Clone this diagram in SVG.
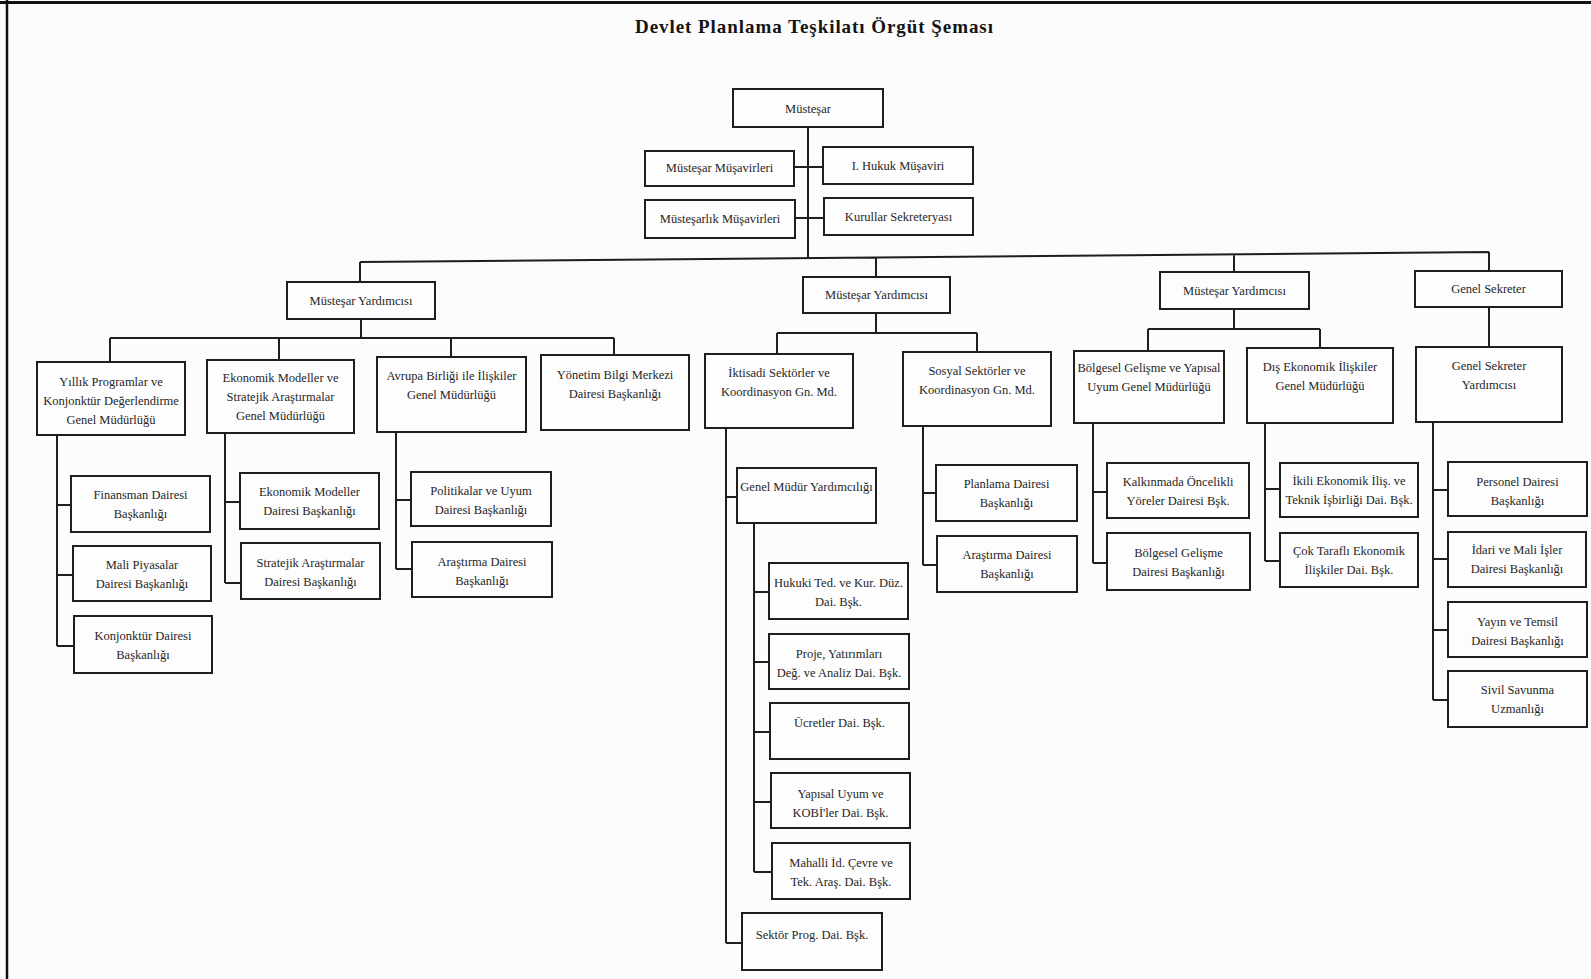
<svg xmlns="http://www.w3.org/2000/svg" width="1591" height="979" viewBox="0 0 1591 979">
<style>
.bg{fill:#fcfcfd}
.frame{stroke:#111;fill:none}
.box{fill:#fdfdfd;stroke:#1e1e1e;stroke-width:2}
.con{fill:none;stroke:#1e1e1e;stroke-width:2}
.t{font-family:"Liberation Serif","DejaVu Serif",serif;font-size:12.5px;fill:#262626;text-anchor:middle}
.title{font-family:"Liberation Serif","DejaVu Serif",serif;font-size:19px;font-weight:bold;fill:#151515;text-anchor:middle}
</style>
<rect class="bg" x="0" y="0" width="1591" height="979"/>
<line class="frame" x1="0" y1="2.5" x2="1591" y2="2.5" stroke-width="3"/>
<line class="frame" x1="7" y1="0" x2="7" y2="979" stroke-width="2.5"/>
<text id="title" class="title" x="814" y="33" textLength="358" lengthAdjust="spacing">Devlet Planlama Teşkilatı Örgüt Şeması</text>

<g id="connectors">
<path class="con" d="M808 127V258 M794 167H823 M795 218H824"/>
<path class="con" d="M360 262L1489 252 M360 262V282 M876 257.5V277 M1234 254.3V272 M1489 252V271"/>
<path class="con" d="M361 319V338 M110 338H614 M110 338V362 M279 338V360 M451 338V357 M614 338V355"/>
<path class="con" d="M876 313V333 M777 333H977 M777 333V354 M977 333V352"/>
<path class="con" d="M1234 309V329 M1148 329H1320 M1148 329V351 M1320 329V348"/>
<path class="con" d="M1489 307V347"/>
<path class="con" d="M57 435V646 M57 505H71 M57 575H73 M57 646H74"/>
<path class="con" d="M225 433V583 M225 502H240 M225 583H241"/>
<path class="con" d="M396 432V569 M396 500H411 M396 569H412"/>
<path class="con" d="M726 428V943 M726 497H737 M726 943H742"/>
<path class="con" d="M754 523V872 M754 592H769 M754 662H769 M754 732H770 M754 802H771 M754 872H772"/>
<path class="con" d="M923 426V565 M923 493H936 M923 565H937"/>
<path class="con" d="M1093 423V563 M1093 492H1107 M1093 563H1107"/>
<path class="con" d="M1265 423V561 M1265 489H1280 M1265 561H1280"/>
<path class="con" d="M1433 422V700 M1433 490H1448 M1433 559H1448 M1433 630H1448 M1433 700H1448"/>
</g>

<g id="mustesar"><rect class="box" x="733" y="89" width="150" height="38"/><text class="t" x="808" y="113">Müsteşar</text></g>
<g id="mustesar-musavirleri"><rect class="box" x="645" y="151" width="149" height="35"/><text class="t" x="719.5" y="172">Müsteşar Müşavirleri</text></g>
<g id="hukuk-musaviri"><rect class="box" x="823" y="147" width="150" height="37"/><text class="t" x="898" y="170">I. Hukuk Müşaviri</text></g>
<g id="mustesarlik-musavirleri"><rect class="box" x="645" y="200" width="150" height="38"/><text class="t" x="720" y="223">Müsteşarlık Müşavirleri</text></g>
<g id="kurullar"><rect class="box" x="824" y="198" width="149" height="37"/><text class="t" x="898.5" y="221">Kurullar Sekreteryası</text></g>

<g id="my1"><rect class="box" x="287" y="282" width="148" height="37"/><text class="t" x="361" y="305">Müsteşar Yardımcısı</text></g>
<g id="my2"><rect class="box" x="803" y="277" width="147" height="36"/><text class="t" x="876.5" y="299">Müsteşar Yardımcısı</text></g>
<g id="my3"><rect class="box" x="1160" y="272" width="149" height="37"/><text class="t" x="1234.5" y="295">Müsteşar Yardımcısı</text></g>
<g id="genel-sekreter"><rect class="box" x="1415" y="271" width="147" height="36"/><text class="t" x="1488.5" y="293">Genel Sekreter</text></g>

<g id="yillik"><rect class="box" x="37" y="362" width="148" height="73"/><text class="t"><tspan x="111" y="386">Yıllık Programlar ve</tspan><tspan x="111" y="405">Konjonktür Değerlendirme</tspan><tspan x="111" y="424">Genel Müdürlüğü</tspan></text></g>
<g id="ekonomik-gm"><rect class="box" x="207" y="360" width="147" height="73"/><text class="t"><tspan x="280.5" y="382">Ekonomik Modeller ve</tspan><tspan x="280.5" y="401">Stratejik Araştırmalar</tspan><tspan x="280.5" y="420">Genel Müdürlüğü</tspan></text></g>
<g id="avrupa"><rect class="box" x="377" y="357" width="149" height="75"/><text class="t"><tspan x="451.5" y="380">Avrupa Birliği ile İlişkiler</tspan><tspan x="451.5" y="399">Genel Müdürlüğü</tspan></text></g>
<g id="yonetim"><rect class="box" x="541" y="355" width="148" height="75"/><text class="t"><tspan x="615" y="379">Yönetim Bilgi Merkezi</tspan><tspan x="615" y="398">Dairesi Başkanlığı</tspan></text></g>
<g id="iktisadi"><rect class="box" x="705" y="354" width="148" height="74"/><text class="t"><tspan x="779" y="377">İktisadi Sektörler ve</tspan><tspan x="779" y="396">Koordinasyon Gn. Md.</tspan></text></g>
<g id="sosyal"><rect class="box" x="903" y="352" width="148" height="74"/><text class="t"><tspan x="977" y="375">Sosyal Sektörler ve</tspan><tspan x="977" y="394">Koordinasyon Gn. Md.</tspan></text></g>
<g id="bolgesel-gm"><rect class="box" x="1074" y="351" width="150" height="72"/><text class="t"><tspan x="1149" y="372">Bölgesel Gelişme ve Yapısal</tspan><tspan x="1149" y="391">Uyum Genel Müdürlüğü</tspan></text></g>
<g id="dis-ekonomik"><rect class="box" x="1247" y="348" width="146" height="75"/><text class="t"><tspan x="1320" y="371">Dış Ekonomik İlişkiler</tspan><tspan x="1320" y="390">Genel Müdürlüğü</tspan></text></g>
<g id="gs-yardimcisi"><rect class="box" x="1416" y="347" width="146" height="75"/><text class="t"><tspan x="1489" y="370">Genel Sekreter</tspan><tspan x="1489" y="389">Yardımcısı</tspan></text></g>

<g id="finansman"><rect class="box" x="71" y="476" width="139" height="56"/><text class="t"><tspan x="140.5" y="499">Finansman Dairesi</tspan><tspan x="140.5" y="518">Başkanlığı</tspan></text></g>
<g id="mali-piyasalar"><rect class="box" x="73" y="546" width="138" height="55"/><text class="t"><tspan x="142" y="569">Mali Piyasalar</tspan><tspan x="142" y="588">Dairesi Başkanlığı</tspan></text></g>
<g id="konjonktur"><rect class="box" x="74" y="616" width="138" height="57"/><text class="t"><tspan x="143" y="640">Konjonktür Dairesi</tspan><tspan x="143" y="659">Başkanlığı</tspan></text></g>
<g id="ekonomik-modeller"><rect class="box" x="240" y="473" width="139" height="56"/><text class="t"><tspan x="309.5" y="496">Ekonomik Modeller</tspan><tspan x="309.5" y="515">Dairesi Başkanlığı</tspan></text></g>
<g id="stratejik"><rect class="box" x="241" y="543" width="139" height="56"/><text class="t"><tspan x="310.5" y="567">Stratejik Araştırmalar</tspan><tspan x="310.5" y="586">Dairesi Başkanlığı</tspan></text></g>
<g id="politikalar"><rect class="box" x="411" y="472" width="140" height="54"/><text class="t"><tspan x="481" y="495">Politikalar ve Uyum</tspan><tspan x="481" y="514">Dairesi Başkanlığı</tspan></text></g>
<g id="arastirma-ab"><rect class="box" x="412" y="542" width="140" height="55"/><text class="t"><tspan x="482" y="566">Araştırma Dairesi</tspan><tspan x="482" y="585">Başkanlığı</tspan></text></g>

<g id="gmy"><rect class="box" x="737" y="468" width="139" height="55"/><text class="t" x="806.5" y="491">Genel Müdür Yardımcılığı</text></g>
<g id="hukuki"><rect class="box" x="769" y="563" width="139" height="56"/><text class="t"><tspan x="838.5" y="587">Hukuki Ted. ve Kur. Düz.</tspan><tspan x="838.5" y="606">Dai. Bşk.</tspan></text></g>
<g id="proje"><rect class="box" x="769" y="634" width="140" height="55"/><text class="t"><tspan x="839" y="658">Proje, Yatırımları</tspan><tspan x="839" y="677">Değ. ve Analiz Dai. Bşk.</tspan></text></g>
<g id="ucretler"><rect class="box" x="770" y="703" width="139" height="56"/><text class="t" x="839.5" y="727">Ücretler Dai. Bşk.</text></g>
<g id="yapisal"><rect class="box" x="771" y="773" width="139" height="55"/><text class="t"><tspan x="840.5" y="798">Yapısal Uyum ve</tspan><tspan x="840.5" y="817">KOBİ'ler Dai. Bşk.</tspan></text></g>
<g id="mahalli"><rect class="box" x="772" y="843" width="138" height="56"/><text class="t"><tspan x="841" y="867">Mahalli İd. Çevre ve</tspan><tspan x="841" y="886">Tek. Araş. Dai. Bşk.</tspan></text></g>
<g id="sektor-prog"><rect class="box" x="742" y="913" width="140" height="57"/><text class="t" x="812" y="939">Sektör Prog. Dai. Bşk.</text></g>

<g id="planlama"><rect class="box" x="936" y="465" width="141" height="56"/><text class="t"><tspan x="1006.5" y="488">Planlama Dairesi</tspan><tspan x="1006.5" y="507">Başkanlığı</tspan></text></g>
<g id="arastirma-sosyal"><rect class="box" x="937" y="536" width="140" height="56"/><text class="t"><tspan x="1007" y="559">Araştırma Dairesi</tspan><tspan x="1007" y="578">Başkanlığı</tspan></text></g>
<g id="kalkinmada"><rect class="box" x="1107" y="463" width="142" height="55"/><text class="t"><tspan x="1178" y="486">Kalkınmada Öncelikli</tspan><tspan x="1178" y="505">Yöreler Dairesi Bşk.</tspan></text></g>
<g id="bolgesel-gelisme"><rect class="box" x="1107" y="533" width="143" height="57"/><text class="t"><tspan x="1178.5" y="557">Bölgesel Gelişme</tspan><tspan x="1178.5" y="576">Dairesi Başkanlığı</tspan></text></g>
<g id="ikili"><rect class="box" x="1280" y="463" width="138" height="54"/><text class="t"><tspan x="1349" y="485">İkili Ekonomik İliş. ve</tspan><tspan x="1349" y="504">Teknik İşbirliği Dai. Bşk.</tspan></text></g>
<g id="cok-tarafli"><rect class="box" x="1280" y="533" width="138" height="54"/><text class="t"><tspan x="1349" y="555">Çok Taraflı Ekonomik</tspan><tspan x="1349" y="574">İlişkiler Dai. Bşk.</tspan></text></g>
<g id="personel"><rect class="box" x="1448" y="462" width="139" height="54"/><text class="t"><tspan x="1517.5" y="486">Personel Dairesi</tspan><tspan x="1517.5" y="505">Başkanlığı</tspan></text></g>
<g id="idari-mali"><rect class="box" x="1448" y="532" width="138" height="55"/><text class="t"><tspan x="1517" y="554">İdari ve Mali İşler</tspan><tspan x="1517" y="573">Dairesi Başkanlığı</tspan></text></g>
<g id="yayin"><rect class="box" x="1448" y="602" width="139" height="55"/><text class="t"><tspan x="1517.5" y="626">Yayın ve Temsil</tspan><tspan x="1517.5" y="645">Dairesi Başkanlığı</tspan></text></g>
<g id="sivil"><rect class="box" x="1448" y="671" width="139" height="56"/><text class="t"><tspan x="1517.5" y="694">Sivil Savunma</tspan><tspan x="1517.5" y="713">Uzmanlığı</tspan></text></g>
</svg>
